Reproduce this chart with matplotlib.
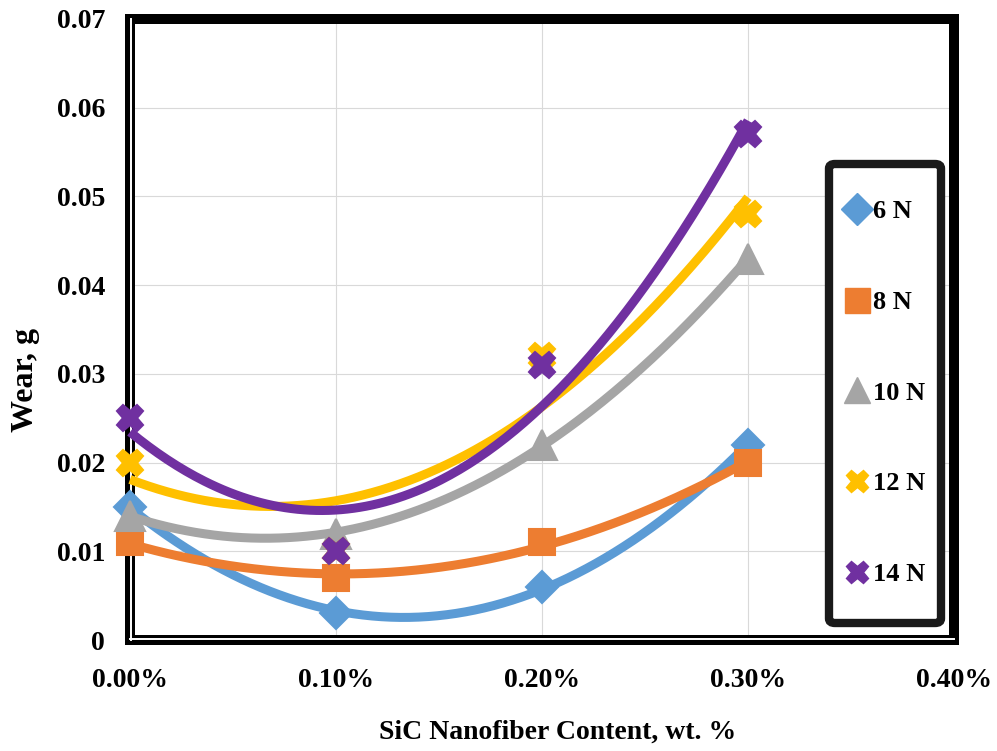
import matplotlib
matplotlib.use("Agg")
import matplotlib.pyplot as plt
import matplotlib.transforms as mtransforms
import numpy as np
from matplotlib.lines import Line2D
from matplotlib.patches import FancyBboxPatch

# SiC nanofiber content (fraction, shown as %) and measured wear (g)
content = [0.0, 0.001, 0.002, 0.003]
wear_6n = [0.015, 0.003, 0.006, 0.022]
wear_8n = [0.011, 0.007, 0.011, 0.020]
wear_10n = [0.014, 0.012, 0.022, 0.043]
wear_12n = [0.020, 0.010, 0.032, 0.048]
wear_14n = [0.025, 0.010, 0.031, 0.057]
loads = ["6 N", "8 N", "10 N", "12 N", "14 N"]

x_ticks = [0.0, 0.001, 0.002, 0.003, 0.004]
x_tick_labels = ["0.00%", "0.10%", "0.20%", "0.30%", "0.40%"]
y_ticks = [0.0, 0.01, 0.02, 0.03, 0.04, 0.05, 0.06, 0.07]
y_tick_labels = ["0", "0.01", "0.02", "0.03", "0.04", "0.05", "0.06", "0.07"]

series = [wear_6n, wear_8n, wear_10n, wear_12n, wear_14n]
colors = ["#5B9BD5", "#ED7D31", "#A5A5A5", "#FFC000", "#7030A0"]
markers = ["D", "s", "^", "X", "X"]
sizes = [16, 19, 21, 19, 19]
legend_sizes = [16, 18, 19, 16, 16]

plt.rcParams["font.family"] = ["Liberation Serif", "DejaVu Serif"]
plt.rcParams["font.weight"] = "bold"

W, H = 997, 751
fig = plt.figure(figsize=(W / 100, H / 100), dpi=100)
ax = fig.add_axes([130 / W, 1 - 640 / H, 824 / W, 621 / H])

for i, (wear, c, m, ms) in enumerate(zip(series, colors, markers, sizes)):
    # Excel-style 2nd order polynomial trendline
    coef = np.polyfit(content, wear, 2)
    xs = np.linspace(content[0], content[-1], 200)
    ax.plot(xs, np.polyval(coef, xs), color=c, lw=6.5, solid_capstyle="butt",
            zorder=4 + i * 0.1, clip_on=False)
    ax.plot(content, wear, ls="none", marker=m, ms=ms, color=c, mec=c, mew=1.5,
            zorder=4.05 + i * 0.1, clip_on=False)

ax.set_xlim(0, 0.004)
ax.set_ylim(0, 0.07)
ax.set_xticks(x_ticks)
ax.set_xticklabels(x_tick_labels)
ax.set_yticks(y_ticks)
ax.set_yticklabels(y_tick_labels)
ax.tick_params(axis="both", length=0, labelsize=20)
ax.tick_params(axis="y", pad=18)
ax.tick_params(axis="x", pad=20)
ax.grid(True, color="#d9d9d9", lw=0.8)
ax.set_axisbelow(True)

for sp in ax.spines.values():
    sp.set_linewidth(7.2)
    sp.set_color("black")
    sp.set_zorder(3)

# thin white gap giving the double line on the left and bottom edges
off_x = mtransforms.offset_copy(ax.transAxes, fig=fig, x=1.2, y=0, units="dots")
off_y = mtransforms.offset_copy(ax.transAxes, fig=fig, x=0, y=1.2, units="dots")
ax.plot([0, 0], [0, 1], transform=off_x, color="white", lw=1.4, zorder=3.5, clip_on=False)
ax.plot([0, 1], [0, 0], transform=off_y, color="white", lw=1.4, zorder=3.5, clip_on=False)

ax.set_xlabel("SiC Nanofiber Content, wt. %", fontsize=20, fontweight="bold")
ax.xaxis.set_label_coords((558 - 130) / 824, (640 - 720) / 621)
ax.set_ylabel("Wear, g", fontsize=23, fontweight="bold")
ax.yaxis.set_label_coords((40 - 130) / 824, (640 - 380) / 621)

# legend box
box = FancyBboxPatch((829 / W, 1 - 623 / H), 112 / W, 459 / H,
                     boxstyle="round,pad=0,rounding_size=0.006",
                     transform=fig.transFigure, lw=6, ec="#1a1a1a", fc="white",
                     zorder=5)
fig.add_artist(box)

handles = [Line2D([], [], ls="none", marker=m, ms=ms, color=c, mec=c)
           for c, m, ms in zip(colors, markers, legend_sizes)]
leg = fig.legend(handles, loads, loc="center", bbox_to_anchor=(886 / W, 1 - 393 / H),
                 frameon=False, handlelength=0.8, handletextpad=0.2,
                 labelspacing=2.55, prop={"size": 19, "weight": "bold"})
leg.set_zorder(6)

fig.savefig("out.png", dpi=100)
